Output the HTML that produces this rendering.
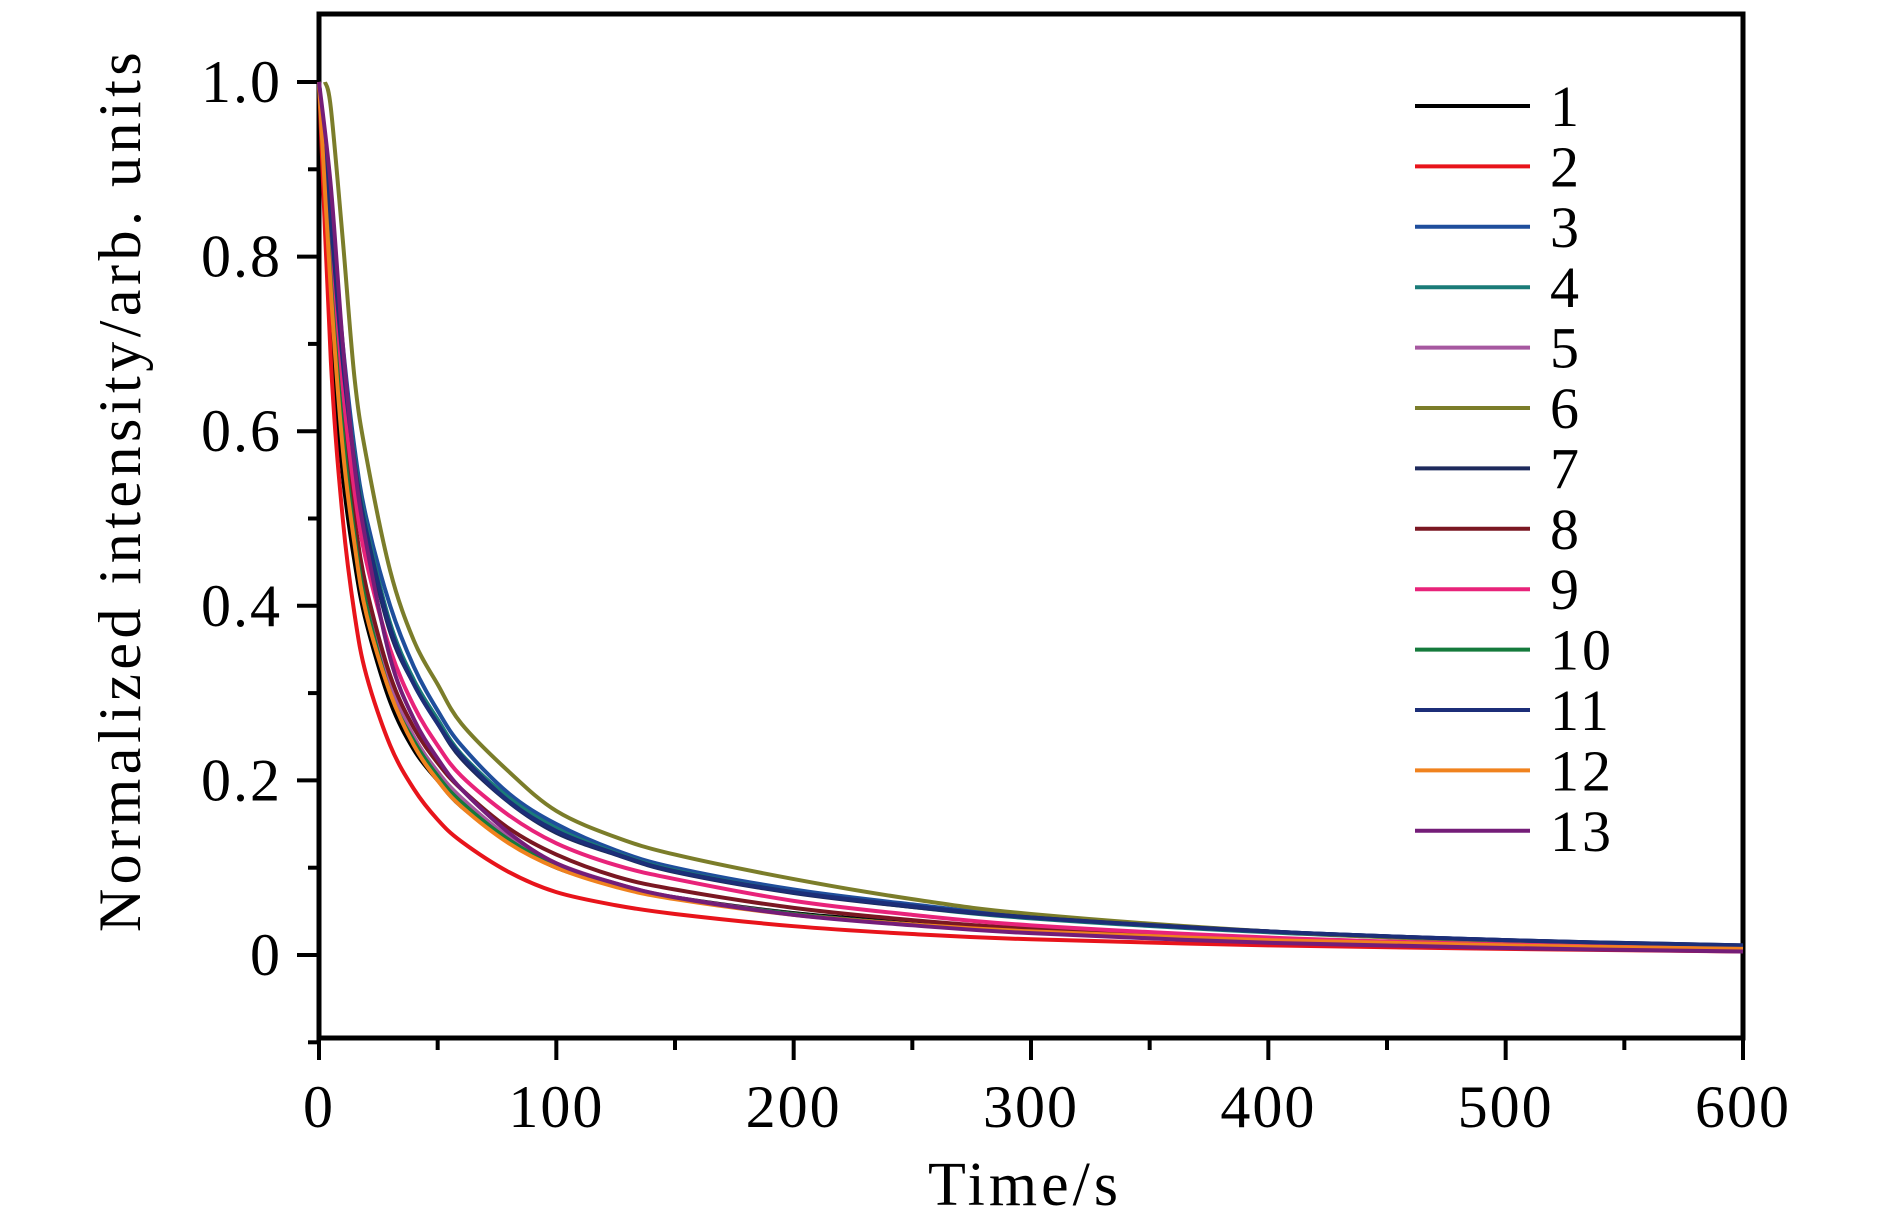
<!DOCTYPE html>
<html><head><meta charset="utf-8"><style>
html,body{margin:0;padding:0;background:#fff}
svg{display:block}
text{font-family:"Liberation Serif",serif;fill:#000}
</style></head><body>
<svg id="chart" width="1890" height="1229" viewBox="0 0 1890 1229">
<g id="axes"></g><g id="series"></g><g id="legend"></g>
</svg>
<script>
const times=[0,5,10,15,20,30,40,50,60,80,100,125,150,200,250,300,400,500,600];
const s1=[1.0,0.72,0.55,0.45,0.38,0.29,0.235,0.20,0.17,0.13,0.10,0.08,0.066,0.048,0.037,0.028,0.017,0.01,0.006];
const s2=[1.0,0.68,0.50,0.39,0.32,0.24,0.19,0.155,0.13,0.095,0.072,0.057,0.047,0.033,0.024,0.018,0.011,0.007,0.004];
const s3=[1.0,0.85,0.70,0.58,0.50,0.40,0.33,0.28,0.24,0.185,0.15,0.12,0.10,0.075,0.058,0.044,0.027,0.017,0.01];
const s4=[1.0,0.84,0.68,0.57,0.49,0.38,0.315,0.27,0.23,0.18,0.145,0.117,0.097,0.072,0.055,0.042,0.026,0.016,0.009];
const s5=[1.0,0.78,0.60,0.49,0.41,0.31,0.25,0.21,0.18,0.135,0.105,0.082,0.066,0.047,0.035,0.026,0.015,0.009,0.005];
const s6=[1.0,0.97,0.82,0.66,0.57,0.44,0.36,0.31,0.265,0.21,0.165,0.135,0.115,0.087,0.064,0.047,0.027,0.015,0.008];
const s7=[1.0,0.83,0.67,0.56,0.48,0.37,0.31,0.265,0.225,0.175,0.14,0.115,0.095,0.071,0.055,0.043,0.027,0.017,0.011];
const s8=[1.0,0.78,0.61,0.50,0.42,0.32,0.26,0.22,0.19,0.145,0.115,0.09,0.075,0.054,0.04,0.03,0.018,0.011,0.006];
const s9=[1.0,0.82,0.65,0.53,0.45,0.35,0.285,0.24,0.205,0.16,0.128,0.103,0.087,0.062,0.046,0.034,0.02,0.012,0.007];
const s10=[1.0,0.77,0.60,0.48,0.40,0.30,0.245,0.205,0.175,0.132,0.102,0.08,0.065,0.047,0.035,0.026,0.015,0.009,0.005];
const s11=[1.0,0.84,0.68,0.565,0.485,0.375,0.31,0.265,0.228,0.176,0.142,0.116,0.096,0.072,0.056,0.043,0.027,0.017,0.011];
const s12=[1.0,0.76,0.58,0.47,0.39,0.30,0.24,0.20,0.17,0.128,0.10,0.078,0.064,0.046,0.035,0.027,0.017,0.011,0.007];
const s13=[1.0,0.88,0.70,0.56,0.47,0.34,0.27,0.225,0.19,0.14,0.105,0.082,0.066,0.046,0.034,0.025,0.014,0.008,0.004];
const seriesData=[s1,s2,s3,s4,s5,s6,s7,s8,s9,s10,s11,s12,s13];
const seriesNames=["1","2","3","4","5","6","7","8","9","10","11","12","13"];
const colors=["#000000","#e8141b","#1f4e9c","#1a7b78","#a658a0","#7b7d2a","#1e2a5c","#7a1722","#e8237a","#157a3c","#1c2e78","#f0821e","#741d78"];
const xTicks=[0,100,200,300,400,500,600];
const yTicks=[0,0.2,0.4,0.6,0.8,1.0];
const yTickLabels=["0","0.2","0.4","0.6","0.8","1.0"];

const X0=319,X1=1743,Y0=955,Y1=82,YB=1038,YT=14;
const xs=v=>X0+(v/600)*(X1-X0);
const ys=v=>Y0-(v/1.0)*(Y0-Y1);
const NS="http://www.w3.org/2000/svg";
function mk(tag,attrs,parent){const e=document.createElementNS(NS,tag);for(const k in attrs)e.setAttribute(k,attrs[k]);parent.appendChild(e);return e;}
const axes=document.getElementById('axes');
const frame=mk('rect',{x:X0,y:YT,width:X1-X0,height:YB-YT,fill:'none',stroke:'#000','stroke-width':5},axes);


xTicks.forEach((t,i)=>{
  const l=mk('line',{x1:xs(t),x2:xs(t),y1:YB,y2:YB+22,stroke:'#000','stroke-width':4},axes);
  
  
  if(i<xTicks.length-1){const m=mk('line',{x1:xs(t+50),x2:xs(t+50),y1:YB,y2:YB+12,stroke:'#000','stroke-width':4},axes);
  
  }
  const tx=mk('text',{x:xs(t),y:1127,'text-anchor':'middle','font-size':60,'letter-spacing':2},axes);tx.textContent=t;
  
  
});
yTicks.forEach((v,i)=>{
  const l=mk('line',{x1:X0-22,x2:X0,y1:ys(v),y2:ys(v),stroke:'#000','stroke-width':4},axes);
  
  
  const tx=mk('text',{x:282,y:ys(v)+20,'text-anchor':'end','font-size':60,'letter-spacing':2},axes);tx.textContent=yTickLabels[i];
  
  
});
[-0.1,0.1,0.3,0.5,0.7,0.9].forEach(v=>{
  const m=mk('line',{x1:X0-11,x2:X0,y1:ys(v),y2:ys(v),stroke:'#000','stroke-width':4},axes);
  
  
});
const xt=mk('text',{x:1025,y:1205,'text-anchor':'middle','font-size':62,'letter-spacing':4},axes);xt.textContent='Time/s';


const yt=mk('text',{x:0,y:0,'text-anchor':'middle','font-size':60,'letter-spacing':4.5,transform:'translate(140,490) rotate(-90)'},axes);yt.textContent='Normalized intensity/arb. units';



const sg=document.getElementById('series');
seriesData.forEach((arr,si)=>{
  const pts=times.map((t,i)=>[xs(t)+(si===5&&i===0?6:0),ys(arr[i])]);
  let d='M'+pts[0][0]+','+pts[0][1];
  for(let i=0;i<pts.length-1;i++){
    const p0=pts[Math.max(0,i-1)],p1=pts[i],p2=pts[i+1],p3=pts[Math.min(pts.length-1,i+2)];
    const c1=[p1[0]+(p2[0]-p0[0])/6,p1[1]+(p2[1]-p0[1])/6];
    const c2=[p2[0]-(p3[0]-p1[0])/6,p2[1]-(p3[1]-p1[1])/6];
    d+=` C${c1[0]},${c1[1]} ${c2[0]},${c2[1]} ${p2[0]},${p2[1]}`;
  }
  const p=mk('path',{d:d,fill:'none',stroke:colors[si],'stroke-width':4,'stroke-linejoin':'round'},sg);
  
  
});
const lg=document.getElementById('legend');
seriesNames.forEach((n,i)=>{
  const y=106+i*60.4;
  const l=mk('line',{x1:1415,x2:1530,y1:y,y2:y,stroke:colors[i],'stroke-width':4},lg);
  
  
  const t=mk('text',{x:1550,y:y+20,'font-size':58,'letter-spacing':3},lg);t.textContent=n;
  
  
});
</script>
</body></html>
